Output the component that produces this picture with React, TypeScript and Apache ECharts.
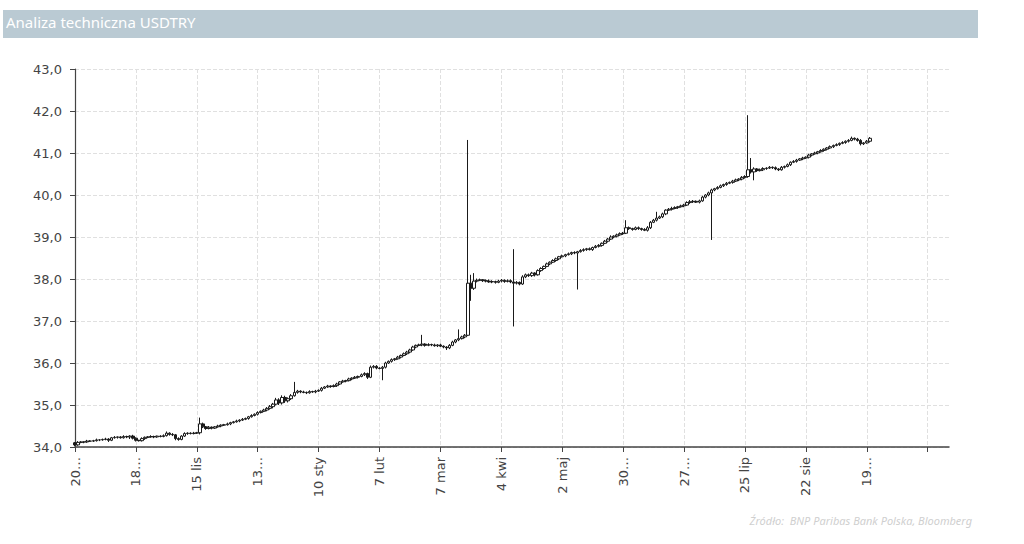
import React, { useEffect, useRef } from 'react';
import * as echarts from 'echarts';

// Daily closes of USDTRY (weekdays from 20 Sep 2024)
const closes = [
  34.05, 34.11, 34.12, 34.12, 34.14, 34.14, 34.15, 34.17, 34.17, 34.18,
  34.19, 34.16, 34.22, 34.23, 34.24, 34.22, 34.25, 34.24, 34.26, 34.21,
  34.16, 34.15, 34.20, 34.23, 34.24, 34.25, 34.24, 34.26, 34.25, 34.27,
  34.33, 34.30, 34.29, 34.20, 34.18, 34.26, 34.32, 34.33, 34.32, 34.33,
  34.34, 34.55, 34.48, 34.44, 34.47, 34.45, 34.48, 34.50, 34.52, 34.53,
  34.55, 34.58, 34.60, 34.62, 34.64, 34.66, 34.68, 34.72, 34.75, 34.78,
  34.82, 34.85, 34.88, 34.92, 34.96, 35.02, 35.12, 35.05, 35.18, 35.10,
  35.15, 35.22, 35.30, 35.33, 35.31, 35.30, 35.29, 35.32, 35.31, 35.33,
  35.35, 35.40, 35.43, 35.45, 35.44, 35.46, 35.50, 35.55, 35.57, 35.58,
  35.62, 35.64, 35.66, 35.68, 35.72, 35.75, 35.66, 35.90, 35.92, 35.88,
  35.87, 35.90, 36.00, 36.04, 36.08, 36.10, 36.14, 36.18, 36.22, 36.26,
  36.31, 36.38, 36.42, 36.43, 36.45, 36.42, 36.44, 36.43, 36.41, 36.43,
  36.40, 36.38, 36.36, 36.42, 36.50, 36.55, 36.58, 36.62, 36.66, 37.90,
  37.78, 37.95, 37.97, 37.98, 37.96, 37.95, 37.93, 37.94, 37.92, 37.95,
  37.97, 37.94, 37.96, 37.93, 37.90, 37.92, 37.88, 38.05, 38.10, 38.08,
  38.14, 38.10, 38.20, 38.25, 38.30, 38.36, 38.40, 38.44, 38.48, 38.53,
  38.55, 38.58, 38.60, 38.63, 38.62, 38.65, 38.68, 38.70, 38.72, 38.70,
  38.75, 38.78, 38.80, 38.85, 38.90, 38.95, 39.00, 39.02, 39.05, 39.08,
  39.09, 39.22, 39.20, 39.18, 39.22, 39.20, 39.18, 39.16, 39.22, 39.35,
  39.40, 39.45, 39.48, 39.55, 39.64, 39.66, 39.68, 39.70, 39.72, 39.74,
  39.76, 39.82, 39.84, 39.85, 39.83, 39.86, 39.95, 40.00, 40.05, 40.12,
  40.15, 40.18, 40.22, 40.25, 40.28, 40.30, 40.33, 40.36, 40.38, 40.42,
  40.44, 40.60, 40.55, 40.62, 40.58, 40.60, 40.63, 40.64, 40.66, 40.65,
  40.62, 40.60, 40.66, 40.68, 40.72, 40.78, 40.80, 40.83, 40.86, 40.88,
  40.90, 40.95, 40.98, 41.00, 41.03, 41.06, 41.09, 41.12, 41.15, 41.18,
  41.20, 41.23, 41.25, 41.28, 41.30, 41.35, 41.33, 41.30, 41.22, 41.24,
  41.28, 41.35,
];

const firstOpen = 34.1;

// Upper wick above the candle body, in hundredths
const wickUp = [
  2, 3, 2, 1, 3, 2, 2, 3, 1, 2,
  3, 2, 2, 3, 1, 2, 3, 2, 2, 3,
  2, 1, 3, 2, 2, 3, 2, 1, 2, 3,
  4, 2, 3, 2, 3, 2, 3, 2, 2, 3,
  2, 15, 3, 2, 3, 2, 2, 3, 2, 2,
  3, 2, 2, 3, 2, 3, 2, 2, 3, 2,
  3, 2, 3, 3, 4, 3, 5, 4, 5, 4,
  3, 4, 25, 3, 2, 3, 2, 3, 2, 3,
  2, 3, 2, 3, 2, 3, 3, 2, 3, 2,
  3, 2, 3, 2, 3, 3, 2, 4, 3, 3,
  2, 3, 3, 2, 3, 2, 3, 2, 3, 3,
  3, 3, 2, 3, 22, 2, 3, 2, 3, 2,
  3, 2, 2, 3, 3, 2, 22, 3, 3, 341,
  20, 19, 4, 3, 2, 3, 4, 3, 2, 3,
  3, 2, 3, 3, 78, 3, 2, 4, 3, 3,
  3, 2, 3, 3, 2, 3, 2, 3, 3, 2,
  3, 2, 3, 2, 3, 2, 3, 3, 2, 3,
  2, 3, 3, 2, 3, 3, 4, 2, 3, 3,
  3, 18, 3, 2, 3, 3, 2, 3, 4, 3,
  3, 15, 3, 3, 2, 3, 4, 3, 2, 3,
  3, 3, 4, 3, 2, 3, 3, 2, 3, 3,
  2, 3, 3, 2, 3, 2, 3, 3, 2, 3,
  3, 130, 28, 4, 2, 3, 3, 2, 3, 2,
  3, 2, 3, 2, 3, 2, 3, 3, 2, 3,
  2, 3, 2, 3, 2, 3, 2, 2, 3, 2,
  3, 2, 3, 2, 3, 4, 2, 3, 3, 2,
  3, 3,
];

// Lower wick below the candle body, in hundredths
const wickDown = [
  3, 2, 2, 3, 2, 1, 2, 2, 3, 2,
  2, 4, 2, 2, 3, 2, 2, 3, 5, 3,
  3, 2, 2, 3, 2, 2, 3, 2, 2, 2,
  2, 3, 3, 4, 3, 2, 2, 3, 2, 2,
  2, 4, 3, 3, 2, 3, 2, 2, 3, 2,
  2, 3, 2, 2, 3, 2, 2, 3, 2, 2,
  3, 2, 2, 3, 3, 4, 3, 5, 4, 5,
  4, 3, 2, 3, 3, 2, 3, 2, 2, 3,
  2, 3, 2, 2, 3, 2, 3, 2, 2, 3,
  2, 3, 2, 3, 2, 3, 4, 2, 3, 3,
  2, 28, 3, 2, 3, 3, 2, 3, 2, 3,
  3, 2, 3, 2, 3, 3, 2, 3, 2, 3,
  2, 3, 5, 3, 2, 3, 3, 2, 3, 2,
  30, 4, 3, 2, 3, 3, 2, 3, 3, 2,
  3, 3, 2, 3, 103, 3, 3, 2, 3, 3,
  3, 4, 2, 3, 3, 2, 3, 2, 3, 3,
  2, 3, 2, 3, 3, 87, 2, 3, 3, 2,
  3, 2, 3, 3, 2, 3, 2, 3, 3, 2,
  3, 2, 3, 3, 2, 3, 3, 2, 3, 3,
  2, 3, 2, 3, 3, 2, 3, 2, 3, 2,
  3, 2, 3, 3, 2, 3, 2, 3, 3, 112,
  3, 2, 2, 3, 3, 2, 3, 2, 3, 3,
  3, 3, 4, 20, 3, 2, 3, 3, 2, 3,
  3, 3, 2, 3, 2, 3, 2, 3, 2, 3,
  2, 3, 3, 2, 3, 2, 3, 3, 2, 3,
  2, 3, 2, 3, 3, 2, 3, 3, 4, 3,
  2, 3,
];

const tickLabels = [
  '20…', '18…', '15 lis', '13…', '10 sty', '7 lut', '7 mar', '4 kwi',
  '2 maj', '30…', '27…', '25 lip', '22 sie', '19…', '',
];

const yTicks = [34, 35, 36, 37, 38, 39, 40, 41, 42, 43];

const TITLE = 'Analiza techniczna USDTRY';
const SOURCE = 'Źródło:  BNP Paribas Bank Polska, Bloomberg';

const CATEGORY_COUNT = 288;
const TICK_STEP = 20;

function buildDays(): string[] {
  const out: string[] = [];
  const d = new Date(Date.UTC(2024, 8, 20));
  while (out.length < CATEGORY_COUNT) {
    const wd = d.getUTCDay();
    if (wd !== 0 && wd !== 6) out.push(d.toISOString().slice(0, 10));
    d.setUTCDate(d.getUTCDate() + 1);
  }
  return out;
}

export default function App() {
  const ref = useRef<HTMLDivElement>(null);

  useEffect(() => {
    if (!ref.current) return;
    const chart = echarts.init(ref.current, undefined, { renderer: 'svg' });
    const days = buildDays();
    const candles = closes.map((c, i) => {
      const o = i === 0 ? firstOpen : closes[i - 1];
      const hi = Math.max(o, c) + wickUp[i] / 100;
      const lo = Math.min(o, c) - wickDown[i] / 100;
      return [o, c, +lo.toFixed(2), +hi.toFixed(2)];
    });
    const font = 'DejaVu Sans';
    chart.setOption({
      animation: false,
      backgroundColor: '#ffffff',
      grid: { left: 75, right: 75, top: 69, bottom: 97, containLabel: false },
      xAxis: {
        type: 'category',
        data: days,
        boundaryGap: false,
        axisLine: { lineStyle: { color: '#444', width: 1.5 } },
        axisTick: { show: true, interval: TICK_STEP - 1, length: 5, lineStyle: { color: '#444' } },
        axisLabel: {
          interval: TICK_STEP - 1,
          rotate: 90,
          margin: 10,
          fontFamily: font,
          fontSize: 13,
          color: '#444',
          formatter: (_v: string, i: number) => tickLabels[Math.round(i / TICK_STEP)] ?? '',
        },
        splitLine: {
          show: true,
          interval: TICK_STEP - 1,
          lineStyle: { type: 'dashed', color: '#e0e0e0', width: 1 },
        },
      },
      yAxis: {
        type: 'value',
        min: yTicks[0],
        max: yTicks[yTicks.length - 1],
        interval: 1,
        axisLine: { show: true, lineStyle: { color: '#444', width: 1.2 } },
        axisTick: { show: true, length: 5, lineStyle: { color: '#444' } },
        axisLabel: {
          margin: 13,
          fontFamily: font,
          fontSize: 13,
          color: '#444',
          formatter: (v: number) => v.toFixed(1).replace('.', ','),
        },
        splitLine: { show: true, lineStyle: { type: 'dashed', color: '#e0e0e0', width: 1 } },
      },
      series: [
        {
          type: 'candlestick',
          data: candles,
          barWidth: 3,
          itemStyle: {
            color: '#ffffff',
            color0: '#1a1a1a',
            borderColor: '#1a1a1a',
            borderColor0: '#1a1a1a',
            borderWidth: 1,
          },
        },
      ],
      graphic: [
        {
          type: 'rect',
          left: 3,
          top: 10,
          shape: { width: 975, height: 28 },
          style: { fill: '#bacad3' },
          silent: true,
        },
        {
          type: 'text',
          left: 6,
          top: 14,
          style: { text: TITLE, fill: '#ffffff', fontFamily: 'Noto Sans', fontSize: 15 },
          silent: true,
        },
        {
          type: 'text',
          right: 52,
          top: 515,
          style: {
            text: SOURCE,
            fill: '#cfcfcf',
            fontFamily: 'Noto Sans',
            fontStyle: 'italic',
            fontSize: 11,
          },
          silent: true,
        },
      ],
    });
    return () => chart.dispose();
  }, []);

  return (
    <div
      ref={ref}
      style={{ position: 'fixed', left: 0, top: 0, width: 1024, height: 544, background: '#fff' }}
    />
  );
}
